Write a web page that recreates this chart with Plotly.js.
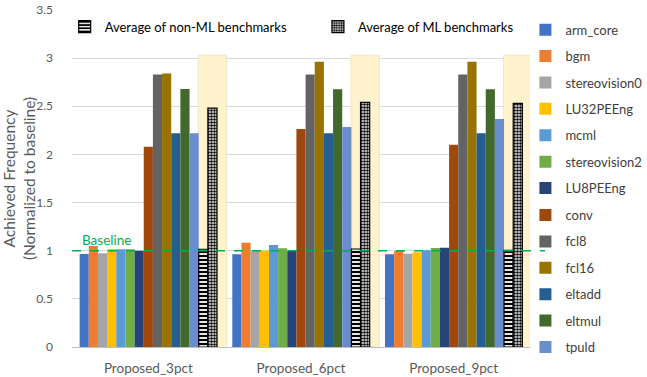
<!DOCTYPE html>
<html>
<head>
<meta charset="utf-8">
<script src="https://cdn.plot.ly/plotly-3.0.1.min.js"></script>
<style>html,body{margin:0;padding:0;background:#fff}#chart{width:647px;height:377px}</style>
</head>
<body>
<div id="chart"></div>
<script>
const categories = ['Proposed_3pct', 'Proposed_6pct', 'Proposed_9pct'];

const seriesNames = ['arm_core', 'bgm', 'stereovision0', 'LU32PEEng', 'mcml', 'stereovision2',
  'LU8PEEng', 'conv', 'fcl8', 'fcl16', 'eltadd', 'eltmul', 'tpuld'];

const arm_core      = [0.966, 0.962, 0.962];
const bgm           = [1.05, 1.083, 0.997];
const stereovision0 = [0.973, 1.0, 0.969];
const LU32PEEng     = [1.015, 1.0, 0.983];
const mcml          = [1.015, 1.06, 1.004];
const stereovision2 = [1.015, 1.025, 1.028];
const LU8PEEng      = [1.0, 1.0, 1.031];
const conv          = [2.08, 2.264, 2.10];
const fcl8          = [2.83, 2.83, 2.83];
const fcl16         = [2.84, 2.963, 2.963];
const eltadd        = [2.22, 2.22, 2.22];
const eltmul        = [2.68, 2.676, 2.676];
const tpuld         = [2.22, 2.285, 2.368];

const avgNonML = [1.015, 1.018, 1.004];
const avgML    = [2.48, 2.54, 2.53];
const highlight = [3.03, 3.03, 3.03];

const seriesValues = [arm_core, bgm, stereovision0, LU32PEEng, mcml, stereovision2,
  LU8PEEng, conv, fcl8, fcl16, eltadd, eltmul, tpuld];
const colors = ['#4472C4', '#ED7D31', '#A5A5A5', '#FFC000', '#5B9BD5', '#70AD47',
  '#264478', '#9E480E', '#636363', '#997300', '#255E91', '#43682B', '#698ED0'];

const FONT = 'Lato, "Open Sans", sans-serif';
const traces = [];

// highlight background (base subplot, drawn underneath)
traces.push({
  type: 'bar', x: categories, y: highlight, xaxis: 'x', yaxis: 'y',
  width: 0.186, offset: 0.327,
  marker: {color: '#FFF2CC', line: {color: '#EFE6CC', width: 1}},
  showlegend: false, hoverinfo: 'skip'
});

seriesNames.forEach((name, i) => {
  traces.push({
    type: 'bar', name: name, x: categories, y: seriesValues[i],
    xaxis: 'x2', yaxis: 'y',
    marker: {color: colors[i], line: {width: 0}},
    legend: i < 7 ? 'legend' : 'legend4', legendgroup: name
  });
});

traces.push({
  type: 'bar', name: 'Average of non-ML benchmarks', x: categories, y: avgNonML,
  xaxis: 'x2', yaxis: 'y',
  marker: {color: '#ffffff', line: {color: '#000000', width: 1.2},
    pattern: {shape: '-', fgcolor: '#000000', bgcolor: '#ffffff', size: 4, solidity: 0.55}},
  legend: 'legend2'
});
traces.push({
  type: 'bar', name: 'Average of ML benchmarks', x: categories, y: avgML,
  xaxis: 'x2', yaxis: 'y',
  marker: {color: '#ffffff', line: {color: '#000000', width: 1.2},
    pattern: {shape: '.', fgcolor: '#000000', bgcolor: '#ffffff', size: 3, solidity: 0.6}},
  legend: 'legend3'
});

const rightLegend = (y) => ({x: 0.99, xanchor: 'left', y: y, yanchor: 'top', orientation: 'v',
  font: {size: 13, color: '#404040', family: FONT}, tracegroupgap: 6.5,
  bgcolor: 'rgba(0,0,0,0)', itemwidth: 30});

const layout = {
  width: 647, height: 377,
  margin: {l: 72, r: 117, t: 10, b: 30, autoexpand: false},
  paper_bgcolor: '#ffffff', plot_bgcolor: '#ffffff',
  font: {family: FONT, color: '#595959', size: 12},
  barmode: 'group', bargap: 0.1, bargroupgap: 0,
  xaxis: {type: 'category', range: [-0.5, 2.5], autorange: false, showgrid: false, showline: true,
    linecolor: '#BFBFBF', linewidth: 1, ticks: '', ticklabelstandoff: 9,
    tickfont: {size: 13.5, color: '#595959', family: FONT}, fixedrange: true},
  xaxis2: {type: 'category', range: [-0.5, 2.5], autorange: false, overlaying: 'x', visible: false},
  yaxis: {range: [0, 3.5], autorange: false, dtick: 0.5, tick0: 0, showgrid: true, gridcolor: '#D9D9D9',
    gridwidth: 1, zeroline: false, showline: false, ticks: '', ticklabelstandoff: 18,
    tickfont: {size: 12, color: '#595959', family: FONT},
    title: {text: 'Achieved Frequency<br>(Normalized to baseline)', standoff: 0,
      font: {size: 15.5, color: '#595959', family: FONT}}},
  legend: rightLegend(0.986),
  legend4: rightLegend(0.436),
  legend2: {x: -0.016, xanchor: 'left', y: 0.995, yanchor: 'top', orientation: 'h',
    font: {size: 13, color: '#000000', family: FONT}, bgcolor: 'rgba(0,0,0,0)'},
  legend3: {x: 0.537, xanchor: 'left', y: 0.995, yanchor: 'top', orientation: 'h',
    font: {size: 13, color: '#000000', family: FONT}, bgcolor: 'rgba(0,0,0,0)'},
  shapes: [{type: 'line', xref: 'paper', yref: 'y', x0: 0, x1: 1.033, y0: 1, y1: 1,
    line: {color: '#00B050', width: 1.5, dash: 'dash'}}],
  annotations: [{text: 'Baseline', xref: 'paper', yref: 'y', x: 0.018, y: 1,
    xanchor: 'left', yanchor: 'bottom', yshift: 1, showarrow: false,
    font: {size: 13.5, color: '#00B050', family: FONT}}]
};

Plotly.newPlot('chart', traces, layout, {displayModeBar: false, staticPlot: true});
</script>
</body>
</html>
